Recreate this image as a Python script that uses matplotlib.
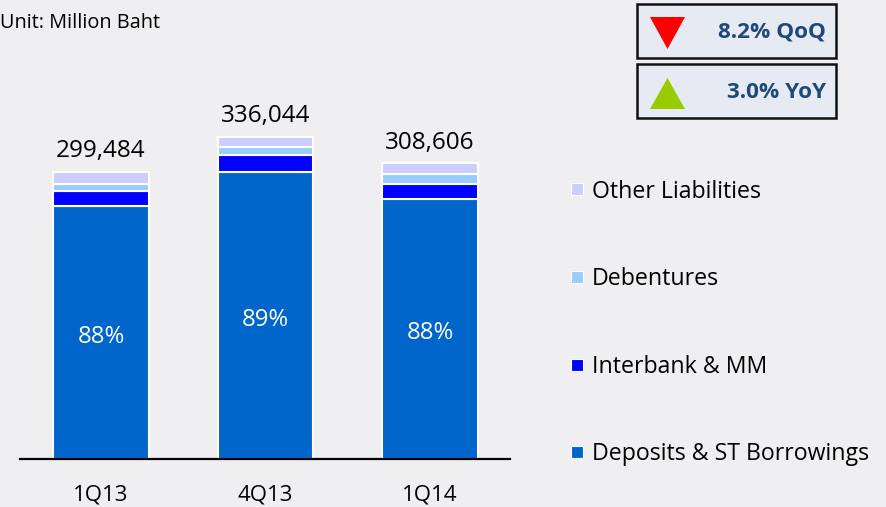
import matplotlib
matplotlib.use("Agg")
import matplotlib.pyplot as plt
from matplotlib.patches import Rectangle, Polygon
from matplotlib.lines import Line2D
import numpy as np

plt.rcParams['font.family'] = ['Open Sans', 'DejaVu Sans']

categories = ["1Q13", "4Q13", "1Q14"]
totals = [299484, 336044, 308606]
deposits = [263546, 299079, 271573]
interbank = [15500, 17500, 15500]
debentures = [8000, 8500, 10500]
other = [12438, 10965, 11033]
deposit_share = ["88%", "89%", "88%"]
series_names = ["Deposits & ST Borrowings", "Interbank & MM", "Debentures", "Other Liabilities"]
colors = ["#0066cc", "#0000ff", "#99ccff", "#ccccff"]
qoq_text = "8.2% QoQ"
yoy_text = "3.0% YoY"

W, H = 886, 507
bg = "#efeff1"
fig = plt.figure(figsize=(W / 100, H / 100), dpi=100, facecolor=bg)

# main axes: x from 20px to 510px, y from 459px (zero) to 59px
ax = fig.add_axes([20 / W, (H - 459) / H, 490 / W, 400 / H])
ax.set_facecolor("none")
x = np.arange(len(categories))
series = [deposits, interbank, debentures, other]
bottom = np.zeros(len(categories))
for vals, col, name in zip(series, colors, series_names):
    ax.bar(x, vals, width=0.578, bottom=bottom, color=col, edgecolor="white",
           linewidth=1.5, label=name, zorder=2)
    bottom = bottom + np.array(vals)

ax.set_xlim(-0.492, 2.486)
ax.set_ylim(0, 417200)
for s in ["top", "right", "left"]:
    ax.spines[s].set_visible(False)
ax.spines["bottom"].set_color("black")
ax.spines["bottom"].set_linewidth(1.6)
ax.set_yticks([])
ax.set_xticks(x)
ax.set_xticklabels(categories, fontsize=16, color="black")
ax.tick_params(axis="x", length=0, pad=18)

for i in range(len(categories)):
    ax.annotate(deposit_share[i], (x[i], deposits[i] / 2), xytext=(0, -3),
                textcoords="offset points", ha="center", va="center",
                color="white", fontsize=17.2)
    ax.annotate(f"{totals[i]:,}", (x[i], totals[i]), xytext=(0, 10.5),
                textcoords="offset points", ha="center", va="baseline",
                fontsize=17.5, color="black")

# legend (reverse order)
handles = [Line2D([], [], marker="s", linestyle="none", markersize=8.5,
                  markerfacecolor=c, markeredgecolor="white", markeredgewidth=0.8)
           for c in colors]
leg = fig.legend(handles[::-1], series_names[::-1], loc="upper left",
                 bbox_to_anchor=(555 / W, 1 - 168 / H), frameon=False,
                 fontsize=16.7, labelspacing=2.74, handletextpad=0.2,
                 handlelength=0.9, borderpad=0)

# overlay for boxes and unit text
ov = fig.add_axes([0, 0, 1, 1])
ov.set_xlim(0, W)
ov.set_ylim(H, 0)
ov.axis("off")
ov.set_facecolor("none")

ov.text(0, 23, "Unit: Million Baht", fontsize=14.3, ha="left", va="center", color="black")

box_fill = "#e6ebf3"
for (y0, txt, tri_col, up) in [(4, qoq_text, "#ff0000", False), (64, yoy_text, "#99cc00", True)]:
    ov.add_patch(Rectangle((637, y0), 199, 54, facecolor=box_fill, edgecolor="#111111",
                           linewidth=1.8))
    if up:
        pts = [(650, y0 + 45), (685, y0 + 45), (667.5, y0 + 14)]
    else:
        pts = [(650, y0 + 13), (685, y0 + 13), (667.5, y0 + 45)]
    ov.add_patch(Polygon(pts, closed=True, facecolor=tri_col, edgecolor="none"))
    ov.text(826, y0 + 28, txt, fontsize=16.2, fontweight="bold", color="#1f497d",
            ha="right", va="center")

fig.savefig("out.png", dpi=100, facecolor=bg)
